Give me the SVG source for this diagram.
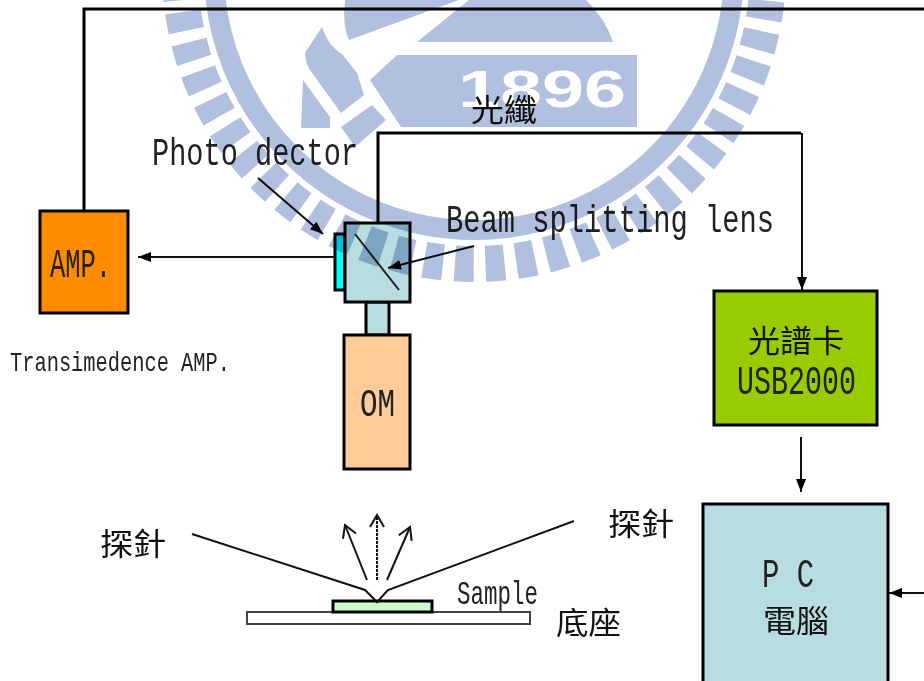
<svg xmlns="http://www.w3.org/2000/svg" width="924" height="681" viewBox="0 0 924 681">
<style>
.box{stroke:#000;stroke-width:3}
.wire{fill:none;stroke:#000;stroke-width:3}
.thin{fill:none;stroke:#111;stroke-width:2}
.t{font-family:"Liberation Mono","Noto Sans CJK TC",monospace;fill:#222}
.c{font-family:"Noto Sans CJK TC","Noto Sans CJK JP",sans-serif;fill:#111;font-weight:400}
.wm{fill:#b0c0de}
</style>
<defs>
<marker id="a" markerWidth="14" markerHeight="12" refX="13" refY="5" orient="auto" markerUnits="userSpaceOnUse"><path d="M0 0L13 5L0 10z" fill="#000"/></marker>
<marker id="o" markerWidth="18" markerHeight="18" refX="14" refY="8" orient="auto" markerUnits="userSpaceOnUse"><path d="M2 1L14 8L2 15" fill="none" stroke="#111" stroke-width="2"/></marker>
</defs>
<rect width="924" height="681" fill="#fff"/>
<g id="amp"><rect class="box" x="40" y="211" width="88" height="102" fill="#ff8c00"/><text class="t" x="50" y="277" font-size="40" textLength="61" lengthAdjust="spacingAndGlyphs">AMP.</text></g>
<text id="amp-label" class="t" x="10" y="371" font-size="28" textLength="220" lengthAdjust="spacingAndGlyphs">Transimedence AMP.</text>
<g id="photo-detector"><rect class="box" x="335" y="234" width="10" height="56" fill="#00ffff"/><text class="t" x="152" y="165" font-size="39" textLength="206" lengthAdjust="spacingAndGlyphs">Photo dector</text></g>
<g id="om"><rect class="box" x="366" y="302" width="23" height="33" fill="#b7dde0"/><rect class="box" x="344" y="335" width="66" height="134" fill="#ffcc99"/><text class="t" x="360" y="416" font-size="39" textLength="35" lengthAdjust="spacingAndGlyphs">OM</text></g>
<g id="beam-splitter"><rect class="box" x="345" y="223" width="65" height="79" fill="#b7dde0"/><path d="M355 234L399 290" stroke="#222" stroke-width="2"/><text class="t" x="446" y="232" font-size="38" textLength="328" lengthAdjust="spacingAndGlyphs">Beam splitting lens</text></g>
<text id="fiber-label" class="c" x="471" y="121" font-size="31" textLength="66" lengthAdjust="spacingAndGlyphs">光纖</text>
<g id="spectrum-card"><rect class="box" x="714" y="291" width="163" height="134" fill="#99cc00"/><text class="c" x="748" y="352" font-size="31" textLength="96" lengthAdjust="spacingAndGlyphs">光譜卡</text><text class="t" x="737" y="394" font-size="40" textLength="119" lengthAdjust="spacingAndGlyphs">USB2000</text></g>
<g id="pc"><rect class="box" x="703" y="504" width="185" height="190" fill="#b7dde0"/><text class="t" x="762" y="587" font-size="40" textLength="52" lengthAdjust="spacingAndGlyphs">P C</text><text class="c" x="763" y="632" font-size="31" textLength="66" lengthAdjust="spacingAndGlyphs">電腦</text></g>
<g id="stage"><rect x="247" y="612" width="283" height="12" fill="#fff" stroke="#444" stroke-width="2"/><text class="c" x="556" y="634" font-size="31" textLength="65" lengthAdjust="spacingAndGlyphs">底座</text></g>
<g id="sample"><rect class="box" x="333" y="601" width="99" height="11" fill="#ccffcc"/><text class="t" x="457" y="604" font-size="33" textLength="81" lengthAdjust="spacingAndGlyphs">Sample</text></g>
<g id="probes"><path class="thin" d="M192 534L365 590L377 602L388 590L574 521"/><text class="c" x="100" y="555" font-size="31" textLength="66" lengthAdjust="spacingAndGlyphs">探針</text><text class="c" x="608" y="535" font-size="31" textLength="66" lengthAdjust="spacingAndGlyphs">探針</text></g>
<g id="connectors">
<path class="wire" d="M84 211V9H924"/>
<path class="wire" d="M378 223V133H801"/>
<path class="thin" d="M802 133V290" marker-end="url(#a)"/>
<path class="thin" d="M801 437V492" marker-end="url(#a)"/>
<path class="thin" d="M924 593H889" marker-end="url(#a)"/>
<path class="thin" d="M335 257H138" marker-end="url(#a)"/>
<path class="thin" d="M258 178L323 234" marker-end="url(#a)"/>
<path class="thin" d="M474 246L388 268" marker-end="url(#a)"/>
<path class="thin" d="M367 580L345 525" marker-end="url(#o)"/>
<path class="thin" d="M377 580V515" stroke-dasharray="3 1" marker-end="url(#o)"/>
<path class="thin" d="M387 580L410 527" marker-end="url(#o)"/>
</g>
<g id="watermark" style="mix-blend-mode:multiply">
<circle cx="474" cy="-30" r="260" fill="none" stroke="#b0c0de" stroke-width="20"/>
<circle cx="474" cy="-30" r="294" fill="none" stroke="#b0c0de" stroke-width="36" stroke-dasharray="19 11.79"/>
<path class="wm" d="M417 42H613Q605 18 586 0H469Z"/>
<path class="wm" d="M345 0Q342 25 349 40L459 0Z"/>
<path class="wm" d="M322 27L305 53Q305 62 310 70L341 113L364 95L357 73L343 55Q328 46 322 27Z"/>
<path class="wm" d="M303 80L301 128H330V117Z"/>
<path class="wm" d="M341 127L372 105L386 120L355 147Z"/>
<path class="wm" d="M397 55H637V127H401L370 80Z"/>
<text x="458" y="107" font-family="Liberation Sans,sans-serif" font-weight="700" font-size="52" fill="#fff" textLength="168" lengthAdjust="spacingAndGlyphs">1896</text>
</g>
</svg>
